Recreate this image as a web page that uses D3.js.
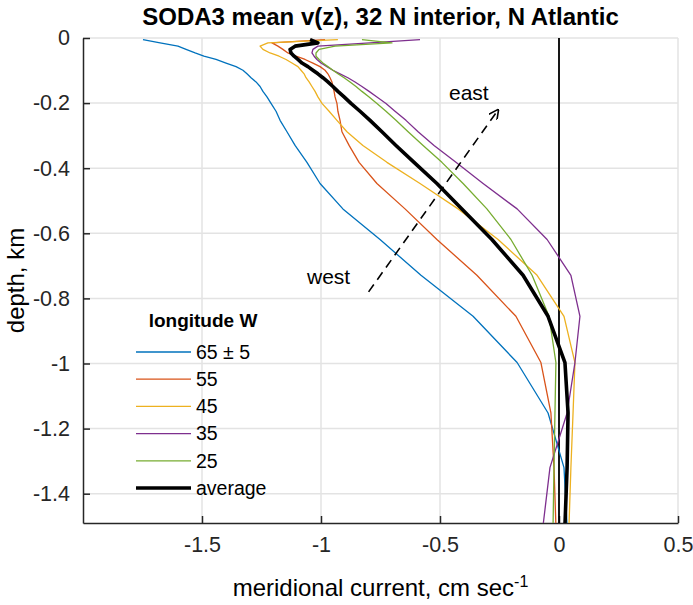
<!DOCTYPE html>
<html>
<head>
<meta charset="utf-8">
<script src="https://cdn.jsdelivr.net/npm/d3@7"></script>
<style>
  body { margin: 0; background: #fff; }
  svg { display: block; font-family: "Liberation Sans", Arial, sans-serif; }
</style>
</head>
<body>
<div id="chart"></div>
<script>
// depth levels of the model grid, km (plotted as negative)
const depth = [0.005, 0.015, 0.025, 0.035, 0.046, 0.056, 0.066, 0.077, 0.088, 0.099,
  0.110, 0.122, 0.135, 0.149, 0.164, 0.181, 0.201, 0.225, 0.253, 0.288,
  0.330, 0.382, 0.447, 0.525, 0.619, 0.729, 0.855, 0.997, 1.152, 1.320, 1.498];

// meridional current, cm/s, one array per longitude band
const v65 = [-1.748, -1.676, -1.601, -1.567, -1.529, -1.492, -1.441, -1.399, -1.357, -1.328,
  -1.311, -1.294, -1.273, -1.256, -1.244, -1.227, -1.210, -1.189, -1.172, -1.143,
  -1.109, -1.059, -1.004, -0.908, -0.752, -0.580, -0.361, -0.176, -0.046, 0.021, 0.034];
const v55 = [-0.983, -1.206, -1.181, -1.160, -1.139, -1.105, -1.067, -1.034, -1.004, -0.983,
  -0.971, -0.962, -0.954, -0.950, -0.945, -0.941, -0.933, -0.929, -0.920, -0.912,
  -0.882, -0.840, -0.765, -0.647, -0.513, -0.345, -0.181, -0.076, -0.034, -0.021, -0.013];
const v45 = [-0.929, -1.223, -1.256, -1.244, -1.214, -1.176, -1.147, -1.122, -1.097, -1.084,
  -1.071, -1.063, -1.050, -1.038, -1.025, -1.013, -0.996, -0.966, -0.933, -0.891,
  -0.824, -0.723, -0.584, -0.424, -0.256, -0.092, 0.021, 0.067, 0.059, 0.050, 0.042];
const v35 = [-0.584, -0.794, -1.013, -1.034, -1.038, -1.029, -1.017, -1.000, -0.975, -0.950,
  -0.920, -0.887, -0.857, -0.828, -0.798, -0.765, -0.727, -0.689, -0.643, -0.592,
  -0.525, -0.433, -0.319, -0.176, -0.050, 0.050, 0.088, 0.067, 0.034, -0.038, -0.067];
const v25 = [-0.828, -0.702, -0.941, -1.008, -1.021, -1.021, -1.008, -0.992, -0.971, -0.950,
  -0.929, -0.903, -0.878, -0.853, -0.828, -0.798, -0.765, -0.727, -0.685, -0.634,
  -0.571, -0.492, -0.403, -0.303, -0.202, -0.113, -0.042, -0.013, -0.017, -0.021, -0.025];
const vAvg = [-1.046, -1.013, -1.109, -1.130, -1.126, -1.113, -1.097, -1.080, -1.055, -1.034,
  -1.013, -0.992, -0.971, -0.950, -0.929, -0.903, -0.874, -0.836, -0.794, -0.744,
  -0.685, -0.609, -0.513, -0.408, -0.282, -0.151, -0.046, 0.025, 0.038, 0.034, 0.025];

const seriesNames = ["65 \u00B1 5", "55", "45", "35", "25", "average"];
const seriesValues = [v65, v55, v45, v35, v25, vAvg];
const seriesColors = ["#0072BD", "#D95319", "#EDB120", "#7E2F8E", "#77AC30", "#000000"];

const xTicks = [-1.5, -1, -0.5, 0, 0.5];
const yTicks = [0, -0.2, -0.4, -0.6, -0.8, -1, -1.2, -1.4];

// arrow from west to east, in data units
const arrowFrom = [-0.80, -0.78];
const arrowTo = [-0.256, -0.221];

const width = 693, height = 605;
const margin = {top: 38, right: 15, bottom: 82, left: 83};

const x = d3.scaleLinear().domain([-2, 0.5]).range([margin.left, width - margin.right]);
const y = d3.scaleLinear().domain([-1.49, 0]).range([height - margin.bottom, margin.top]);

const svg = d3.select("#chart").append("svg")
    .attr("width", width)
    .attr("height", height);

svg.append("defs").append("clipPath").attr("id", "plot-clip")
  .append("rect")
    .attr("x", x(-2)).attr("y", y(0))
    .attr("width", x(0.5) - x(-2)).attr("height", y(-1.49) - y(0));

// grid
const grid = svg.append("g").attr("stroke", "#e3e3e3").attr("stroke-width", 1.5);
grid.selectAll(".gx").data(xTicks).join("line")
    .attr("x1", d => x(d)).attr("x2", d => x(d))
    .attr("y1", y(0)).attr("y2", y(-1.49));
grid.selectAll(".gy").data(yTicks).join("line")
    .attr("x1", x(-2)).attr("x2", x(0.5))
    .attr("y1", d => y(d)).attr("y2", d => y(d));

// axes (ticks point inward, like matlab)
const xAxis = svg.append("g")
    .attr("transform", `translate(0,${y(-1.49)})`)
    .call(d3.axisBottom(x).tickValues(xTicks).tickSizeInner(-7).tickSizeOuter(0)
      .tickFormat(d => String(d)).tickPadding(14));
const yAxis = svg.append("g")
    .attr("transform", `translate(${x(-2)},0)`)
    .call(d3.axisLeft(y).tickValues(yTicks).tickSizeInner(-7).tickSizeOuter(0)
      .tickFormat(d => String(d)).tickPadding(13));

[xAxis, yAxis].forEach(g => {
  g.select(".domain").attr("stroke", "#262626").attr("stroke-width", 1.5);
  g.selectAll(".tick line").attr("stroke", "#262626").attr("stroke-width", 1.5);
  g.selectAll(".tick text").attr("fill", "#262626")
    .style("font-size", "21.5px").style("font-family", "Liberation Sans, Arial, sans-serif");
});
xAxis.selectAll(".tick text").attr("dy", "0.71em");

// zero line
svg.append("line")
    .attr("x1", x(0)).attr("x2", x(0))
    .attr("y1", y(0)).attr("y2", y(-1.49))
    .attr("stroke", "#000").attr("stroke-width", 1.8);

// profiles
const line = d3.line()
    .x(d => x(d[0]))
    .y(d => y(-d[1]));

svg.append("g").attr("clip-path", "url(#plot-clip)")
  .selectAll("path")
  .data(seriesValues)
  .join("path")
    .attr("fill", "none")
    .attr("stroke", (d, i) => seriesColors[i])
    .attr("stroke-width", (d, i) => i === 5 ? 3.6 : 1.3)
    .attr("stroke-linejoin", "round")
    .attr("d", vals => line(vals.map((v, j) => [v, depth[j]])));

// dashed arrow
svg.append("defs").append("marker")
    .attr("id", "head")
    .attr("viewBox", "0 0 10 10")
    .attr("refX", 9).attr("refY", 5)
    .attr("markerWidth", 10).attr("markerHeight", 10)
    .attr("markerUnits", "userSpaceOnUse")
    .attr("orient", "auto")
  .append("path")
    .attr("d", "M0,0 L10,5 L0,10")
    .attr("fill", "none")
    .attr("stroke", "#000")
    .attr("stroke-width", 1.6);

svg.append("line")
    .attr("x1", x(arrowFrom[0])).attr("y1", y(arrowFrom[1]))
    .attr("x2", x(arrowTo[0])).attr("y2", y(arrowTo[1]))
    .attr("stroke", "#000").attr("stroke-width", 1.6)
    .attr("stroke-dasharray", "9,6")
    .attr("marker-end", "url(#head)");

svg.append("text").attr("x", 449).attr("y", 100)
    .style("font-size", "21px").text("east");
svg.append("text").attr("x", 307).attr("y", 284)
    .style("font-size", "21px").text("west");

// legend
const legend = svg.append("g");
legend.append("text")
    .attr("x", 203).attr("y", 327)
    .attr("text-anchor", "middle")
    .style("font-size", "19px").style("font-weight", "bold")
    .text("longitude W");

const rows = legend.selectAll("g.row")
  .data(seriesNames)
  .join("g")
    .attr("transform", (d, i) => `translate(0,${352 + i * 27.2})`);
rows.append("line")
    .attr("x1", 136).attr("x2", 191)
    .attr("stroke", (d, i) => seriesColors[i])
    .attr("stroke-width", (d, i) => i === 5 ? 3.6 : 1.3);
rows.append("text")
    .attr("x", 196).attr("dy", "0.35em")
    .style("font-size", "19.5px")
    .text(d => d);

// title and labels
svg.append("text")
    .attr("x", (x(-2) + x(0.5)) / 2).attr("y", 25)
    .attr("text-anchor", "middle")
    .style("font-size", "24px").style("font-weight", "bold")
    .text("SODA3 mean v(z), 32 N interior, N Atlantic");

svg.append("text")
    .attr("transform", `translate(24,${(y(0) + y(-1.49)) / 2}) rotate(-90)`)
    .attr("text-anchor", "middle")
    .style("font-size", "24px")
    .text("depth, km");

const xl = svg.append("text")
    .attr("x", (x(-2) + x(0.5)) / 2).attr("y", 596)
    .attr("text-anchor", "middle")
    .style("font-size", "24px");
xl.append("tspan").text("meridional current, cm sec");
xl.append("tspan").attr("dy", -9).style("font-size", "16px").text("-1");
</script>
</body>
</html>
